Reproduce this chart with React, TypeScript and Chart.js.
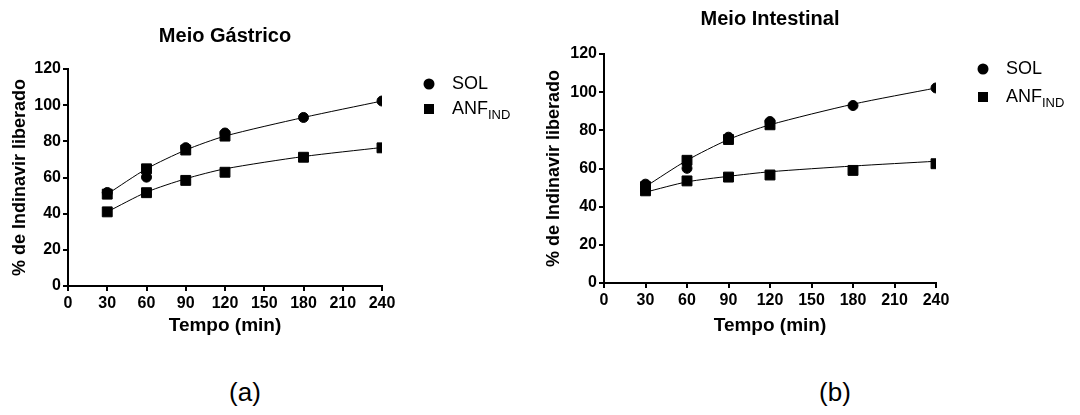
import React, { useEffect, useRef } from 'react';
import { Chart, registerables } from 'chart.js';

Chart.register(...registerables);

const FONT = "'Liberation Sans', Arial, Helvetica, sans-serif";

// ---- data ----
const times = [30, 60, 90, 120, 180, 240];
const xTicks = [0, 30, 60, 90, 120, 150, 180, 210, 240];
const yTicks = [0, 20, 40, 60, 80, 100, 120];

const solGastrico = [51.7, 60.2, 76.5, 84.6, 93.2, 102.3];
const solGastricoAjuste = [50.8, 64.8, 75.2, 82.9, 93.2, 102.3];
const anfGastrico = [41.0, 51.6, 58.4, 62.9, 71.2, 76.4];
const anfGastricoAjuste = [41.0, 51.9, 59.3, 64.8, 71.6, 76.6];

const solIntestinal = [51.8, 60.1, 76.4, 84.6, 93.0, 102.2];
const solIntestinalAjuste = [50.5, 64.3, 75.2, 82.9, 93.7, 102.2];
const anfIntestinal = [48.3, 53.5, 55.5, 56.6, 59.0, 62.5];
const anfIntestinalAjuste = [47.6, 53.0, 55.9, 58.3, 61.3, 63.8];

const legendNames = ['SOL', 'ANF'];
const legendSubs = ['', 'IND'];

const xTitle = 'Tempo (min)';
const yTitle = '% de Indinavir liberado';

const toXY = (vals: number[]) => times.map((t, i) => ({ x: t, y: vals[i] }));

const legendPlugin = {
  id: 'customLegend',
  afterDraw(chart: any, _args: any, opts: any) {
    const { ctx, chartArea } = chart;
    const mx = chartArea.right + opts.markerDx;
    const tx = chartArea.right + opts.textDx;
    const ys = [chartArea.top + opts.y1, chartArea.top + opts.y2];
    ctx.save();
    ctx.fillStyle = '#000';
    ctx.beginPath();
    ctx.arc(mx, ys[0], 5.5, 0, Math.PI * 2);
    ctx.fill();
    ctx.fillRect(mx - 5, ys[1] - 5, 10, 10);
    ctx.textBaseline = 'middle';
    ctx.textAlign = 'left';
    legendNames.forEach((name, i) => {
      ctx.font = `18px ${FONT}`;
      ctx.fillText(name, tx, ys[i]);
      if (legendSubs[i]) {
        const w = ctx.measureText(name).width;
        ctx.font = `13px ${FONT}`;
        ctx.fillText(legendSubs[i], tx + w, ys[i] + 6);
      }
    });
    ctx.restore();
  },
};

type PanelCfg = {
  title: string;
  sol: number[];
  solFit: number[];
  anf: number[];
  anfFit: number[];
  titlePadTop: number;
  titlePadBottom: number;
  yAxisWidth: number;
  xAxisHeight: number;
  yTitlePad: number;
  rightPad: number;
  legendY2: number;
};

function buildChart(canvas: HTMLCanvasElement, cfg: PanelCfg) {
  return new Chart(canvas, {
    type: 'scatter',
    data: {
      datasets: [
        {
          label: 'SOL',
          data: toXY(cfg.sol),
          showLine: false,
          pointStyle: 'circle',
          pointRadius: 5,
          borderWidth: 1,
          backgroundColor: '#000',
          borderColor: '#000',
        },
        {
          label: 'ANF IND',
          data: toXY(cfg.anf),
          showLine: false,
          pointStyle: 'rect',
          pointRadius: 7,
          borderWidth: 1,
          backgroundColor: '#000',
          borderColor: '#000',
        },
        {
          label: 'SOL ajuste',
          data: toXY(cfg.solFit),
          showLine: true,
          borderWidth: 1,
          borderColor: '#000',
          backgroundColor: '#000',
          pointStyle: 'rect',
          pointRadius: [7, 7, 7, 7, 0, 0],
          pointBorderWidth: 1,
          tension: 0.25,
        },
        {
          label: 'ANF ajuste',
          data: toXY(cfg.anfFit),
          showLine: true,
          borderWidth: 1,
          borderColor: '#000',
          backgroundColor: '#000',
          pointRadius: 0,
          tension: 0.25,
        },
      ],
    },
    options: {
      responsive: false,
      animation: false,
      devicePixelRatio: 1,
      layout: { padding: { left: 0, right: cfg.rightPad, top: 0, bottom: 0 } },
      plugins: {
        legend: { display: false },
        tooltip: { enabled: false },
        title: {
          display: true,
          text: cfg.title,
          fullSize: false,
          color: '#000',
          font: { family: FONT, size: 20, weight: 'bold' },
          padding: { top: cfg.titlePadTop, bottom: cfg.titlePadBottom },
        },
        customLegend: { markerDx: 47, textDx: 70, y1: 15, y2: cfg.legendY2 },
      } as any,
      scales: {
        x: {
          type: 'linear',
          min: 0,
          max: 240,
          afterBuildTicks: (s: any) => {
            s.ticks = xTicks.map((v) => ({ value: v }));
          },
          afterFit: (s: any) => {
            s.height = cfg.xAxisHeight;
          },
          border: { display: true, color: '#000', width: 2 },
          grid: { drawOnChartArea: false, drawTicks: true, tickLength: 5, color: '#000', lineWidth: 2 },
          ticks: { color: '#000', padding: 3, maxRotation: 0, font: { family: FONT, size: 16, weight: 'bold' } },
          title: {
            display: true,
            text: xTitle,
            color: '#000',
            font: { family: FONT, size: 19, weight: 'bold' },
            padding: { top: 0, bottom: 3 },
          },
        },
        y: {
          type: 'linear',
          min: 0,
          max: 120,
          afterBuildTicks: (s: any) => {
            s.ticks = yTicks.map((v) => ({ value: v }));
          },
          afterFit: (s: any) => {
            s.width = cfg.yAxisWidth;
          },
          border: { display: true, color: '#000', width: 2 },
          grid: { drawOnChartArea: false, drawTicks: true, tickLength: 5, color: '#000', lineWidth: 2 },
          ticks: { color: '#000', padding: 2, font: { family: FONT, size: 16, weight: 'bold' } },
          title: {
            display: true,
            text: yTitle,
            color: '#000',
            font: { family: FONT, size: 18, weight: 'bold' },
            padding: { top: cfg.yTitlePad, bottom: 0 },
          },
        },
      },
    },
    plugins: [legendPlugin],
  } as any);
}

const panelA: PanelCfg = {
  title: 'Meio Gástrico',
  sol: solGastrico,
  solFit: solGastricoAjuste,
  anf: anfGastrico,
  anfFit: anfGastricoAjuste,
  titlePadTop: 24,
  titlePadBottom: 21,
  yAxisWidth: 68,
  xAxisHeight: 54,
  yTitlePad: 9,
  rightPad: 158,
  legendY2: 40,
};

const panelB: PanelCfg = {
  title: 'Meio Intestinal',
  sol: solIntestinal,
  solFit: solIntestinalAjuste,
  anf: anfIntestinal,
  anfFit: anfIntestinalAjuste,
  titlePadTop: 7,
  titlePadBottom: 23,
  yAxisWidth: 64,
  xAxisHeight: 57,
  yTitlePad: 3,
  rightPad: 144,
  legendY2: 43,
};

function Panel({ cfg, left }: { cfg: PanelCfg; left: number }) {
  const ref = useRef<HTMLCanvasElement | null>(null);
  useEffect(() => {
    if (!ref.current) return;
    const chart = buildChart(ref.current, cfg);
    return () => chart.destroy();
  }, [cfg]);
  return (
    <canvas
      ref={ref}
      width={540}
      height={340}
      style={{ position: 'absolute', left, top: 0, width: 540, height: 340 }}
    />
  );
}

const captionStyle: React.CSSProperties = {
  position: 'absolute',
  top: 375,
  width: 80,
  textAlign: 'center',
  fontFamily: FONT,
  fontSize: 26,
  lineHeight: '34px',
  color: '#000',
};

export default function App() {
  return (
    <div
      style={{
        position: 'absolute',
        left: 0,
        top: 0,
        width: 1080,
        height: 415,
        background: '#fff',
        overflow: 'hidden',
      }}
    >
      <Panel cfg={panelA} left={0} />
      <Panel cfg={panelB} left={540} />
      <div style={{ ...captionStyle, left: 205 }}>(a)</div>
      <div style={{ ...captionStyle, left: 795 }}>(b)</div>
    </div>
  );
}
